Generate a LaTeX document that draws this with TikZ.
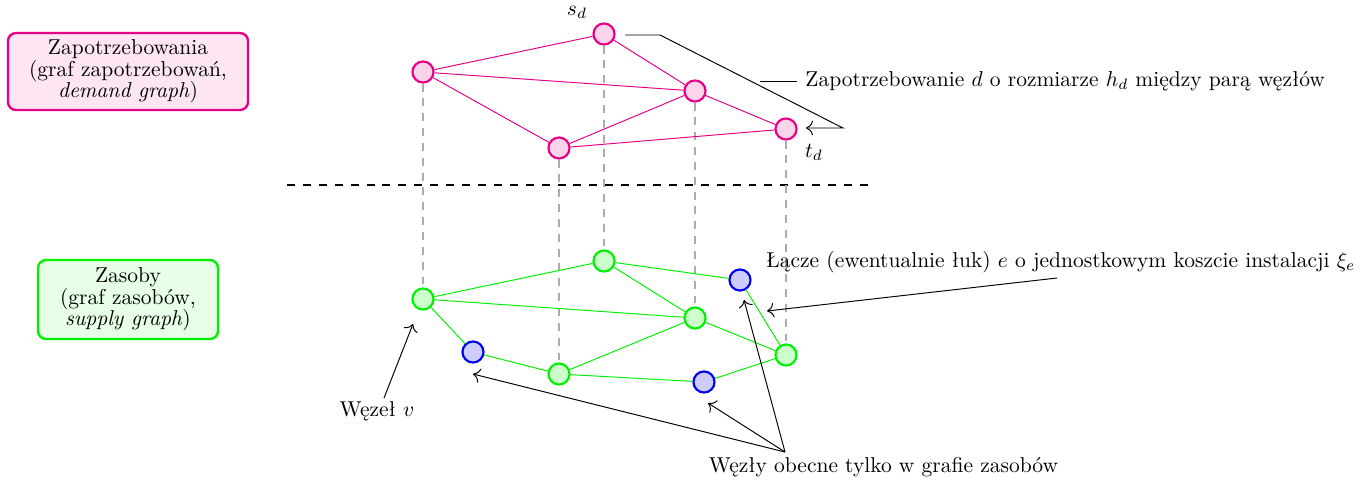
\documentclass[tikz,border=0pt]{standalone}
\usepackage{fontspec}
\usetikzlibrary{arrows.meta}
\definecolor{pinkc}{RGB}{230,0,135}
\definecolor{pinkf}{RGB}{250,212,232}
\definecolor{pinkbox}{RGB}{253,230,242}
\definecolor{greenc}{RGB}{0,240,0}
\definecolor{greenf}{RGB}{204,255,204}
\definecolor{greenbox}{RGB}{230,255,230}
\definecolor{bluec}{RGB}{0,0,240}
\definecolor{bluef}{RGB}{204,204,255}
\tikzset{
  pnode/.style={circle,draw=pinkc,fill=pinkf,line width=1pt,minimum size=9.8pt,inner sep=0pt},
  gnode/.style={circle,draw=greenc,fill=greenf,line width=1pt,minimum size=9.8pt,inner sep=0pt},
  bnode/.style={circle,draw=bluec,fill=bluef,line width=1pt,minimum size=9.8pt,inner sep=0pt},
  pedge/.style={draw=pinkc,line width=0.45pt},
  gedge/.style={draw=greenc,line width=0.45pt},
  vlink/.style={draw=gray!65,line width=0.6pt,dash pattern=on 3.7pt off 3.2pt},
  sepline/.style={draw=black,line width=1pt,dash pattern=on 3.7pt off 3.7pt},
  infobox/.style={rounded corners=3.7pt,line width=1.1pt,align=center,font=\fontsize{10}{10}\selectfont,inner sep=0pt},
  annot/.style={draw=black,line width=0.45pt},
  arr/.style={-{To[scale=1.25]}},
  lbl/.style={inner sep=0pt,font=\fontsize{10}{12}\selectfont}
}
\begin{document}
\begin{tikzpicture}[x=0.465pt,y=-0.465pt]
\useasboundingbox (0,0) rectangle (1366,484);
% boxes
\node[infobox,draw=pinkc,fill=pinkbox,minimum width=111.6pt,minimum height=35.8pt] (dbox) at (128,71.5)
  {Zapotrzebowania\\(graf zapotrzebowań,\\\textit{demand graph})};
\node[infobox,draw=greenc,fill=greenbox,minimum width=83.7pt,minimum height=36.7pt] (sbox) at (128,299.5)
  {Zasoby\\(graf zasobów,\\\textit{supply graph})};
% separator
\coordinate (sepL) at (287,185);
\coordinate (sepR) at (868,185);
\draw[sepline] (sepL) -- (sepR);
% demand nodes
\node[pnode] (A) at (423,72) {};
\node[pnode] (S) at (604,34) {};
\node[pnode] (B) at (695,91) {};
\node[pnode] (T) at (786,129) {};
\node[pnode] (C) at (559,148) {};
% supply nodes
\node[gnode] (G1) at (423,299) {};
\node[gnode] (G2) at (604,261) {};
\node[gnode] (G3) at (695,318) {};
\node[gnode] (G4) at (786,355) {};
\node[gnode] (G5) at (559,374) {};
\node[bnode] (B1) at (473,352) {};
\node[bnode] (B2) at (740,280) {};
\node[bnode] (B3) at (704,382) {};
% vertical links
\draw[vlink] (A) -- (G1);
\draw[vlink] (S) -- (G2);
\draw[vlink] (B) -- (G3);
\draw[vlink] (T) -- (G4);
\draw[vlink] (C) -- (G5);
% demand edges
\draw[pedge] (A) -- (S);
\draw[pedge] (A) -- (B);
\draw[pedge] (A) -- (C);
\draw[pedge] (S) -- (B);
\draw[pedge] (C) -- (B);
\draw[pedge] (C) -- (T);
\draw[pedge] (B) -- (T);
% supply edges
\draw[gedge] (G1) -- (G2);
\draw[gedge] (G1) -- (G3);
\draw[gedge] (G1) -- (B1);
\draw[gedge] (B1) -- (G5);
\draw[gedge] (G5) -- (G3);
\draw[gedge] (G5) -- (B3);
\draw[gedge] (B3) -- (G4);
\draw[gedge] (G4) -- (G3);
\draw[gedge] (G3) -- (G2);
\draw[gedge] (G2) -- (B2);
\draw[gedge] (B2) -- (G4);
% labels on nodes
\node[lbl] (sd) at (577,12) {$s_d$};
\node[lbl] (td) at (814,152) {$t_d$};
% demand annotation
\node[lbl,anchor=west] (zl) at (805,81) {Zapotrzebowanie $d$ o rozmiarze $h_d$ między parą węzłów};
\coordinate (z1) at (625,35);
\coordinate (z2) at (660,35);
\coordinate (z3) at (843,128);
\coordinate (z4) at (806,128);
\coordinate (z5) at (760,81);
\coordinate (z6) at (797,81);
\draw[annot,arr] (z1) -- (z2) -- (z3) -- (z4);
\draw[annot] (z5) -- (z6);
% link annotation
\node[lbl,anchor=west] (ll) at (766,262) {Łącze (ewentualnie łuk) $e$ o jednostkowym koszcie instalacji $\xi_e$};
\coordinate (l1) at (1057,278);
\coordinate (l2) at (767,311);
\draw[annot,arr] (l1) -- (l2);
% node annotation
\node[lbl] (wv) at (377,411) {Węzeł $v$};
\coordinate (v1) at (384,398);
\coordinate (v2) at (413,324);
\draw[annot,arr] (v1) -- (v2);
% supply-only nodes annotation
\node[lbl] (wo) at (883.5,467) {Węzły obecne tylko w grafie zasobów};
\coordinate (o0) at (785,452);
\coordinate (o1) at (473,374);
\coordinate (o2) at (708,403);
\coordinate (o3) at (744,300);
\draw[annot,arr] (o0) -- (o1);
\draw[annot,arr] (o0) -- (o2);
\draw[annot,arr] (o0) -- (o3);
\end{tikzpicture}
\end{document}
